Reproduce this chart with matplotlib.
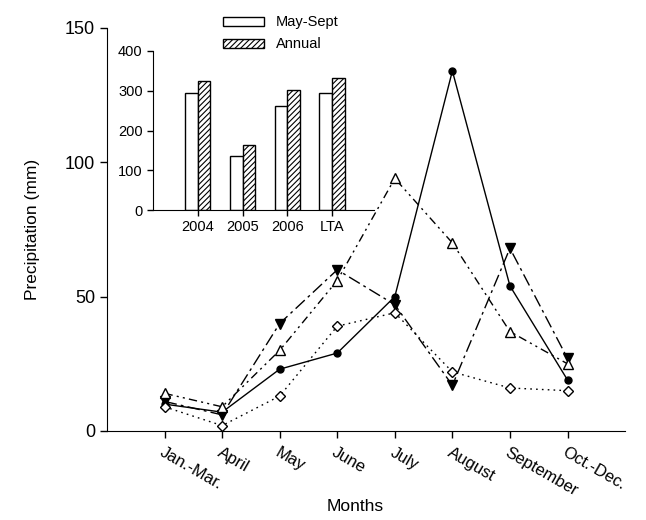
import matplotlib
matplotlib.use("Agg")
import matplotlib.pyplot as plt
import numpy as np

plt.rcParams['font.family'] = ['Liberation Sans', 'DejaVu Sans']
plt.rcParams['hatch.linewidth'] = 0.8

# monthly precipitation (mm)
months = ['Jan.-Mar.', 'April', 'May', 'June', 'July', 'August', 'September', 'Oct.-Dec.']
s_circle = [10, 7, 23, 29, 50, 134, 54, 19]
s_tri_down = [11, 6, 40, 60, 47, 17, 68, 27]
s_tri_up = [14, 9, 30, 56, 94, 70, 37, 25]
s_diamond = [9, 2, 13, 39, 44, 22, 16, 15]

# inset: seasonal totals (mm)
years = ['2004', '2005', '2006', 'LTA']
may_sept = [295, 135, 262, 295]
annual = [325, 163, 303, 333]

fig = plt.figure(figsize=(6.46, 5.2), dpi=100)
ax = fig.add_axes([0.1656, 0.1712, 0.802, 0.775])

x = np.arange(1, len(months) + 1)
ax.plot(x, s_circle, color='black', lw=1, ls='-', marker='o', ms=5, mfc='black')
ax.plot(x, s_tri_down, color='black', lw=1, ls=(0, (9, 3, 2, 3)), marker='v', ms=7, mfc='black')
ax.plot(x, s_tri_up, color='black', lw=1, ls=(0, (6, 3, 1.5, 3, 1.5, 3)), marker='^', ms=7, mfc='white')
ax.plot(x, s_diamond, color='black', lw=1, ls=(0, (1.2, 3)), marker='D', ms=5.5, mfc='white')

ax.set_xlim(0, 9)
ax.set_ylim(0, 150)
ax.set_yticks([0, 50, 100, 150])
ax.set_xticks(x)
ax.set_xticklabels(months, rotation=-30, ha='left', va='top', rotation_mode='anchor', fontsize=12)
ax.tick_params(axis='both', direction='out', length=5, width=1, labelsize=13)
ax.tick_params(axis='x', pad=5, labelsize=12)
for s in ['top', 'right']:
    ax.spines[s].set_visible(False)
ax.set_ylabel('Precipitation (mm)', fontsize=12.5, labelpad=18)
ax.set_xlabel('Months', fontsize=12.5)
ax.xaxis.set_label_coords(0.479, -0.168)

# inset bar chart
ins = fig.add_axes([0.237, 0.596, 0.342, 0.306])
xb = np.arange(len(years))
w = 0.28
b1 = ins.bar(xb - w / 2, may_sept, w, color='white', edgecolor='black', lw=1, label='May-Sept')
b2 = ins.bar(xb + w / 2, annual, w, color='white', edgecolor='black', lw=1, hatch='//////', label='Annual')
ins.set_xlim(-1, 3.94)
ins.set_ylim(0, 400)
ins.set_yticks([0, 100, 200, 300, 400])
ins.set_xticks(xb)
ins.set_xticklabels(years)
ins.tick_params(axis='both', direction='out', length=4, width=1, labelsize=10.5)
for s in ['top', 'right']:
    ins.spines[s].set_visible(False)
ins.patch.set_alpha(0)

fig.legend(handles=[b1, b2], loc='upper left', bbox_to_anchor=(0.33, 0.99),
           frameon=False, fontsize=10.5, handlelength=2.8, handleheight=0.55,
           labelspacing=0.55, handletextpad=0.8, borderaxespad=0.3)

fig.savefig('out.png', dpi=100)
